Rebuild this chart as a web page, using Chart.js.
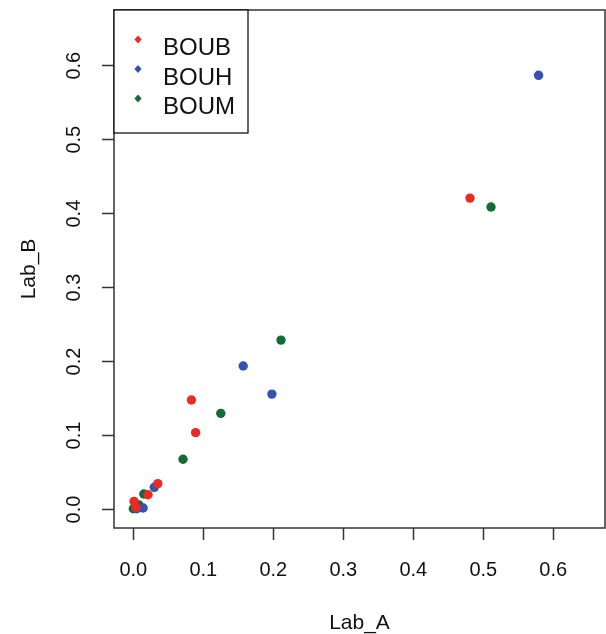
<!DOCTYPE html>
<html>
<head>
<meta charset="utf-8">
<script src="https://cdn.jsdelivr.net/npm/chart.js@4/dist/chart.umd.min.js"></script>
<style>
  html, body { margin: 0; padding: 0; background: #fff; overflow: hidden; }
  #wrap { width: 606px; height: 634px; }
</style>
</head>
<body>
<div id="wrap"><canvas id="scatter"></canvas></div>
<script>
// Series values (Lab_A on x, Lab_B on y)
const seriesNames = ['BOUB', 'BOUH', 'BOUM'];
const seriesColors = ['#ec2a24', '#3452b0', '#136b35'];

const boubA = [0.481, 0.083, 0.089, 0.035, 0.021, 0.001, 0.004];
const boubB = [0.421, 0.148, 0.104, 0.035, 0.020, 0.011, 0.003];
const bouhA = [0.579, 0.157, 0.198, 0.030, 0.014, 0.005];
const bouhB = [0.587, 0.194, 0.156, 0.030, 0.002, 0.001];
const boumA = [0.511, 0.211, 0.125, 0.071, 0.015, 0.008, 0.000];
const boumB = [0.409, 0.229, 0.130, 0.068, 0.021, 0.006, 0.001];

const xTicks = [0.0, 0.1, 0.2, 0.3, 0.4, 0.5, 0.6];
const yTicks = [0.0, 0.1, 0.2, 0.3, 0.4, 0.5, 0.6];

const FONT = '"Liberation Sans", Arial, sans-serif';
const INK = '#111';
const FRAME = '#333';

function toPoints(xs, ys) {
  return xs.map(function (x, i) { return { x: x, y: ys[i] }; });
}

const allSeries = [[boubA, boubB], [bouhA, bouhB], [boumA, boumB]];

const datasets = allSeries.map(function (s, i) {
  return {
    label: seriesNames[i],
    data: toPoints(s[0], s[1]),
    backgroundColor: seriesColors[i],
    borderWidth: 0,
    pointRadius: 4.7,
    pointHoverRadius: 4.7
  };
});

// no extra room for the end labels, the frame sits at fixed edges
function noPadding(scale) {
  scale.paddingTop = 0;
  scale.paddingBottom = 0;
  scale.paddingLeft = 0;
  scale.paddingRight = 0;
}

// box round the plot, R style
const frameBox = {
  id: 'frameBox',
  afterDraw: function (chart) {
    const a = chart.chartArea;
    const ctx = chart.ctx;
    ctx.save();
    ctx.strokeStyle = FRAME;
    ctx.lineWidth = 1.5;
    ctx.strokeRect(a.left, a.top, a.right - a.left, a.bottom - a.top);
    ctx.restore();
  }
};

// legend inset at top left of the plot
const insetLegend = {
  id: 'insetLegend',
  afterDraw: function (chart) {
    const a = chart.chartArea;
    const ctx = chart.ctx;
    ctx.save();
    ctx.strokeStyle = '#000';
    ctx.lineWidth = 1.2;
    ctx.fillStyle = '#fff';
    ctx.fillRect(a.left, a.top, 134, 123);
    ctx.strokeRect(a.left, a.top, 134, 123);

    ctx.font = '24px ' + FONT;
    ctx.textBaseline = 'alphabetic';
    chart.data.datasets.forEach(function (ds, i) {
      const cy = a.top + 29.5 + i * 29.5;
      const cx = a.left + 24;
      ctx.fillStyle = ds.backgroundColor;
      ctx.beginPath();
      ctx.moveTo(cx, cy - 4);
      ctx.lineTo(cx + 3.6, cy);
      ctx.lineTo(cx, cy + 4);
      ctx.lineTo(cx - 3.6, cy);
      ctx.closePath();
      ctx.fill();
      ctx.fillStyle = INK;
      ctx.fillText(ds.label, a.left + 49, cy + 15.5);
    });
    ctx.restore();
  }
};

const config = {
  type: 'scatter',
  data: { datasets: datasets },
  options: {
    responsive: true,
    maintainAspectRatio: false,
    animation: false,
    layout: { autoPadding: false, padding: { top: 10, right: 1, left: 0, bottom: 0 } },
    plugins: {
      legend: { display: false },
      tooltip: { enabled: false }
    },
    scales: {
      x: {
        type: 'linear',
        min: -0.0276,
        max: 0.6739,
        afterBuildTicks: function (scale) {
          scale.ticks = xTicks.map(function (v) { return { value: v }; });
        },
        afterFit: function (scale) { scale.height = 106; noPadding(scale); },
        border: { display: false },
        grid: {
          display: true,
          drawOnChartArea: false,
          drawTicks: true,
          tickLength: 12,
          tickColor: FRAME,
          tickWidth: 1.5
        },
        ticks: {
          autoSkip: false,
          maxRotation: 0,
          padding: 18,
          color: INK,
          font: { family: FONT, size: 20 },
          callback: function (v) { return Number(v).toFixed(1); }
        },
        title: {
          display: true,
          text: 'Lab_A',
          color: INK,
          font: { family: FONT, size: 21 },
          padding: { top: 0, bottom: -2 }
        }
      },
      y: {
        type: 'linear',
        min: -0.025,
        max: 0.6753,
        afterBuildTicks: function (scale) {
          scale.ticks = yTicks.map(function (v) { return { value: v }; });
        },
        afterFit: function (scale) { scale.width = 114; noPadding(scale); },
        border: { display: false },
        grid: {
          display: true,
          drawOnChartArea: false,
          drawTicks: true,
          tickLength: 12,
          tickColor: FRAME,
          tickWidth: 1.5
        },
        ticks: {
          autoSkip: false,
          minRotation: 90,
          maxRotation: 90,
          crossAlign: 'center',
          padding: 14,
          color: INK,
          font: { family: FONT, size: 20 },
          callback: function (v) { return Number(v).toFixed(1); }
        },
        title: {
          display: true,
          text: 'Lab_B',
          color: INK,
          font: { family: FONT, size: 21 },
          padding: { top: 17, bottom: 0 }
        }
      }
    }
  },
  plugins: [frameBox, insetLegend]
};

var scatterChart = new Chart(document.getElementById('scatter'), config);
</script>
</body>
</html>
